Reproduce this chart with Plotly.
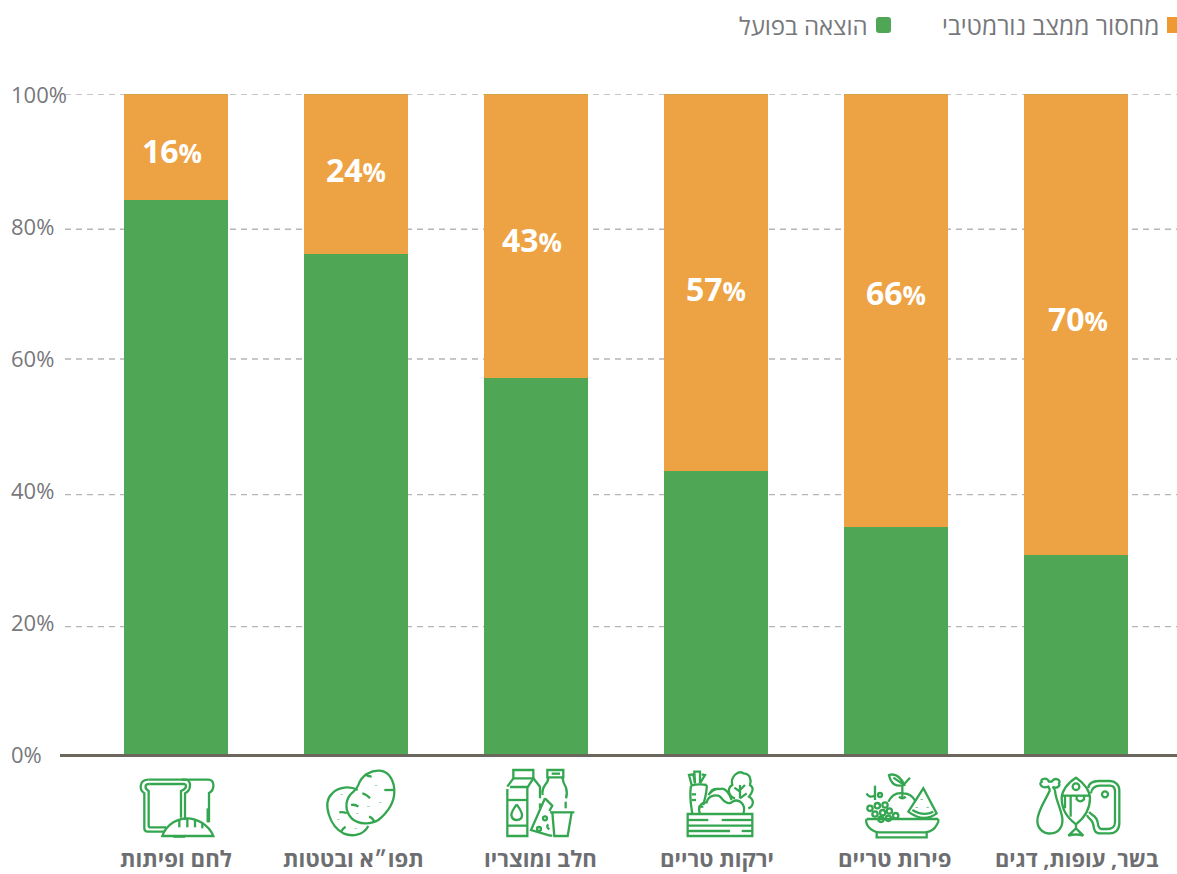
import re
import plotly.graph_objects as go

# ---------- data ----------
categories = ["לחם ופיתות", "תפו״א ובטטות", "חלב ומוצריו", "ירקות טריים", "פירות טריים", "בשר, עופות, דגים"]
actual = [84, 75.8, 57, 42.9, 34.4, 30.2]
shortfall = [16, 24.2, 43, 57.1, 65.6, 69.8]
shortfall_labels = ["16", "24", "43", "57", "66", "70"]
series_names = ["הוצאה בפועל", "מחסור ממצב נורמטיבי"]
tick_levels = [0, 20, 40, 60, 80, 100]
grid_levels = [100, 79.5, 59.85, 39.3, 19.3]
label_levels = [91.5, 88.6, 78.0, 70.6, 69.9, 66.0]
label_xshift = [-4, 0, -4, 0, 0, 2]
category_xshift = [0, -3, 4, 1, -1, 1]
category_size = [22.2, 22.2, 22.2, 22.2, 22.2, 21.8]

# ---------- layout constants ----------
W, H = 1177, 874
L, R, T, B = 60, 0, 94, 120
PW, PH = W - L - R, H - T - B
GREEN, ORANGE = "#4FA654", "#EDA344"
ICON = "#35A650"
GREY = "#77787B"
FONT = "Open Sans, Liberation Sans, DejaVu Sans, sans-serif"
NUM = "Open Sans, sans-serif"


def px(x):
    return (x - L) / PW


def py(y):
    return (T + PH - y) / PH


def to_paper(path, ox=0.0, oy=0.0, s=1.0):
    tokens = re.findall(r"-?\d+\.?\d*|[A-Za-z]", path)
    out, cmd = [], None
    i = 0
    while i < len(tokens):
        t = tokens[i]
        if t.isalpha():
            cmd = t
            out.append(t)
            i += 1
            continue
        a = float(t)
        if cmd == "H":
            out.append(f"{px(ox + a * s):.5f}")
            i += 1
        elif cmd == "V":
            out.append(f"{py(oy + a * s):.5f}")
            i += 1
        else:
            b = float(tokens[i + 1])
            out.append(f"{px(ox + a * s):.5f},{py(oy + b * s):.5f}")
            i += 2
    return " ".join(out)


def circ(cx, cy, r):
    k = 0.55 * r
    return (f"M {cx-r},{cy} C {cx-r},{cy-k} {cx-k},{cy-r} {cx},{cy-r} C {cx+k},{cy-r} {cx+r},{cy-k} {cx+r},{cy} "
            f"C {cx+r},{cy+k} {cx+k},{cy+r} {cx},{cy+r} C {cx-k},{cy+r} {cx-r},{cy+k} {cx-r},{cy} Z")


bread = [
    "M 55,44 H 165 C 185,44 185,75 165,85 V 165",
    "M 55,44 C 27,44 27,75 43,85 V 190 Q 43,200 53,200 H 103",
    "M 58,57 H 160 C 172,57 172,70 153,78 V 158",
    "M 58,57 C 43,57 43,70 56,78 V 182 Q 56,187 62,187 H 108",
    "M 155,44 H 235 C 255,44 255,75 237,84 V 172",
    "M 233,130 V 172",
    "M 97,213 Q 105,188 130,172 Q 172,148 213,172 Q 240,188 250,213 Z",
    "M 148,165 V 187", "M 172,160 V 187", "M 195,162 V 187", "M 217,172 V 190",
    "M 130,215 H 165",
]
potato = [
    "M 128,75 C 105,62 70,65 52,85 C 35,100 34,125 42,150 C 50,175 62,193 85,205 C 110,216 145,212 160,183",
    "M 130,60 C 140,30 170,15 195,17 C 225,20 238,50 238,80 C 238,115 220,140 190,165 C 170,178 130,180 110,160 C 90,140 90,110 105,90 C 115,78 125,75 130,60 Z",
    "M 150,27 Q 160,35 170,35", "M 208,75 H 235", "M 142,85 Q 155,88 165,100",
    "M 108,120 Q 120,117 130,125", "M 73,142 Q 85,140 95,145", "M 162,155 Q 175,160 178,172",
    "M 78,200 Q 83,190 92,185",
    "M 183,60 V 61.5", "M 80,88 V 89.5", "M 196,112 V 113.5", "M 160,124 V 125.5",
    "M 127,145 V 146.5", "M 70,162 V 163.5", "M 122,190 V 191.5",
]
dairy = [
    "M 45,66 H 97 V 213 H 37 V 72",
    "M 55,40 V 15 H 115 V 40 Z",
    "M 55,40 L 37,65", "M 115,40 L 97,68", "M 115,40 L 135,65 V 100", "M 135,115 V 130",
    "M 37,105 H 97", "M 37,182 H 97",
    "M 65,118 Q 49,140 49,150 Q 51,165 65,165 Q 81,165 81,150 Q 81,140 65,118",
    "M 157,15 H 205 V 37 H 157 Z", "M 170,26 H 195",
    "M 160,37 Q 160,50 150,60 Q 140,75 143,90", "M 202,37 Q 205,55 213,68 Q 218,85 213,100", "M 212,110 V 130",
    "M 150,100 L 172,122 L 163,138", "M 150,100 L 108,195 L 165,212 H 172",
    "M 165,142 H 238", "M 172,142 L 178,213 H 218 L 230,142",
    "M 225,175 V 177",
    circ(150, 160, 6), circ(132, 192, 6), "M 160,178 Q 152,185 163,193",
]
veg = [
    "M 38,147 H 232 V 213 H 38 Z",
    "M 38,165 H 100", "M 140,165 H 232", "M 38,182 H 232", "M 38,198 H 165", "M 200,198 H 232",
    "M 48,62 C 42,100 50,130 52,147", "M 95,60 C 97,75 90,100 85,120", "M 48,62 Q 70,55 95,60",
    "M 50,60 L 42,30 L 55,28 L 60,55", "M 60,55 L 58,20 L 75,20 L 75,55", "M 75,55 L 90,30 L 80,28",
    "M 50,88 H 63", "M 50,105 H 63", "M 70,125 H 85",
    "M 75,147 C 68,130 75,112 95,112 C 100,90 130,85 140,100 C 150,115 165,118 172,110 C 190,100 215,115 205,147",
    "M 100,90 Q 115,70 135,72 Q 155,65 170,105", "M 105,85 Q 110,70 130,72",
    "M 180,100 C 160,95 155,70 172,60 C 165,35 190,15 205,25 C 225,25 230,45 225,60 C 240,70 230,85 222,95 C 240,105 235,125 220,130",
    "M 195,100 V 60", "M 195,75 L 210,60", "M 195,80 L 178,68", "M 195,100 L 215,85",
]
fruit = [
    "M 35,162 H 250", "M 35,162 Q 30,170 40,185 Q 55,202 75,202 H 210 Q 235,200 245,180 Q 252,170 250,162",
    "M 65,202 V 217 H 215 V 202",
    "M 102,30 Q 130,22 148,60 Q 110,70 102,30 Z", "M 115,38 L 148,60", "M 145,60 L 165,38", "M 142,60 V 98",
    "M 100,110 Q 115,80 145,85 Q 170,85 182,110", "M 132,95 Q 142,105 152,95",
    "M 205,70 L 245,145 Q 205,175 160,140 Z", "M 172,135 Q 205,155 235,140",
    "M 200,103 V 105", "M 185,127 V 129", "M 218,127 V 129",
    circ(45, 130, 8), circ(67, 122, 8), circ(90, 120, 8), circ(60, 147, 8), circ(83, 143, 8),
    circ(103, 138, 8), circ(122, 152, 8), circ(78, 163, 8), circ(100, 160, 8),
    "M 60,62 L 60,105", "M 60,92 Q 40,100 35,85", circ(75, 90, 6),
]
meat = [
    "M 60,75 C 50,100 20,140 22,170 C 24,195 45,208 62,205 C 85,205 100,185 97,160 C 93,130 75,100 75,75",
    "M 60,75 L 55,65 C 35,72 25,55 35,50 C 30,42 50,35 57,50 L 65,50 C 75,35 95,45 87,55 C 92,65 78,72 68,65 L 75,75",
    "M 138,38 C 110,55 95,80 95,100 C 95,140 120,165 138,178 C 155,165 180,140 180,100 C 180,80 165,55 138,38 Z",
    "M 138,178 V 190 L 115,212 Q 138,205 160,212 L 138,190",
    "M 95,92 H 180", "M 105,92 V 130", "M 122,92 V 155", "M 140,92 V 103 Q 150,115 162,103 V 92",
    circ(138, 65, 10),
    "M 175,70 C 175,55 190,48 205,48 H 240 C 255,48 268,60 268,75 V 175 C 268,195 255,205 240,205 H 210 C 195,205 192,195 190,180 C 188,160 170,160 172,150",
    "M 183,85 C 185,70 195,62 210,62 H 240 C 250,62 255,70 255,80 V 172 C 255,185 245,192 232,192 H 215 C 205,192 204,180 203,172 C 200,150 180,150 178,140",
    circ(225, 88, 9),
]
icons = [(bread, 130, 765), (potato, 315, 765), (dairy, 495, 765), (veg, 675, 765), (fruit, 855, 765), (meat, 1030, 765)]

xs = list(range(len(categories)))
fig = go.Figure()
fig.add_bar(x=xs, y=actual, name=series_names[0], marker_color=GREEN, marker_line_width=0, width=104 / 180)
fig.add_bar(x=xs, y=shortfall, name=series_names[1], marker_color=ORANGE, marker_line_width=0, width=104 / 180)

shapes = []
for lv in grid_levels:
    shapes.append(dict(type="line", xref="paper", yref="y", x0=px(65), x1=1, y0=lv, y1=lv, layer="below",
                       line=dict(color="#B5B5B5", width=1.4, dash="6px,5px")))
# thin green rim along the top of each bar
for x in xs:
    shapes.append(dict(type="line", xref="x", yref="y", x0=x - 52 / 180, x1=x + 52 / 180, y0=100.05, y1=100.05,
                       line=dict(color=GREEN, width=1)))
for paths, ox, oy in icons:
    for p in paths:
        shapes.append(dict(type="path", xref="paper", yref="paper", path=to_paper(p, ox, oy, 1 / 3),
                           line=dict(color=ICON, width=2.3), fillcolor="rgba(0,0,0,0)"))
# legend swatches
shapes.append(dict(type="rect", xref="paper", yref="paper", x0=px(1167), x1=px(1177), y0=py(33), y1=py(17),
                   fillcolor="#EE9A33", line_width=0))
shapes.append(dict(type="path", xref="paper", yref="paper",
                   path=to_paper("M 879,17 H 888 Q 891,17 891,20 V 30 Q 891,33 888,33 H 879 Q 876,33 876,30 V 20 Q 876,17 879,17 Z"),
                   fillcolor=GREEN, line_width=0))

ann = []
for lv in tick_levels:
    ann.append(dict(xref="paper", yref="y", x=px(8.5), y=lv, text=f"{lv}%", xanchor="left", yanchor="middle",
                    showarrow=False, font=dict(family=NUM, size=22, color=GREY)))
for x, lab, lv, dx in zip(xs, shortfall_labels, label_levels, label_xshift):
    ann.append(dict(xref="x", yref="y", x=x, y=lv, xshift=dx, showarrow=False, xanchor="center", yanchor="middle",
                    text=f"<b>{lab}<span style='font-size:26px'>%</span></b>",
                    font=dict(family=NUM, size=32, color="white")))
for x, c, dx, sz in zip(xs, categories, category_xshift, category_size):
    ann.append(dict(xref="x", yref="paper", x=x, y=py(858.8), xshift=dx, showarrow=False, xanchor="center", yanchor="middle",
                    text=f"<b>{c}</b>", font=dict(family=FONT, size=sz, color="#6D6E71")))
ann.append(dict(xref="paper", yref="paper", x=px(1161), y=py(25), text=series_names[1], xanchor="right", yanchor="middle",
                showarrow=False, font=dict(family=FONT, size=24.5, color=GREY)))
ann.append(dict(xref="paper", yref="paper", x=px(870), y=py(25), text=series_names[0], xanchor="right", yanchor="middle",
                showarrow=False, font=dict(family=FONT, size=24, color=GREY)))

fig.update_layout(
    width=W, height=H, margin=dict(l=L, r=R, t=T, b=B, autoexpand=False), barmode="stack", showlegend=False,
    plot_bgcolor="white", paper_bgcolor="white", shapes=shapes, annotations=ann,
    xaxis=dict(range=[-116 / 180, 5 + 101 / 180], tickvals=xs, showticklabels=False, automargin=False,
               showgrid=False, zeroline=False, showline=True, linecolor="#6B675C", linewidth=2.5, ticks=""),
    yaxis=dict(range=[0, 100], tickvals=tick_levels, showticklabels=False, showgrid=False, zeroline=False,
               showline=False, automargin=False),
)
fig.write_html("out.html", config={"displayModeBar": False},
               post_script="document.body.style.margin='0';document.body.style.overflow='hidden';")
